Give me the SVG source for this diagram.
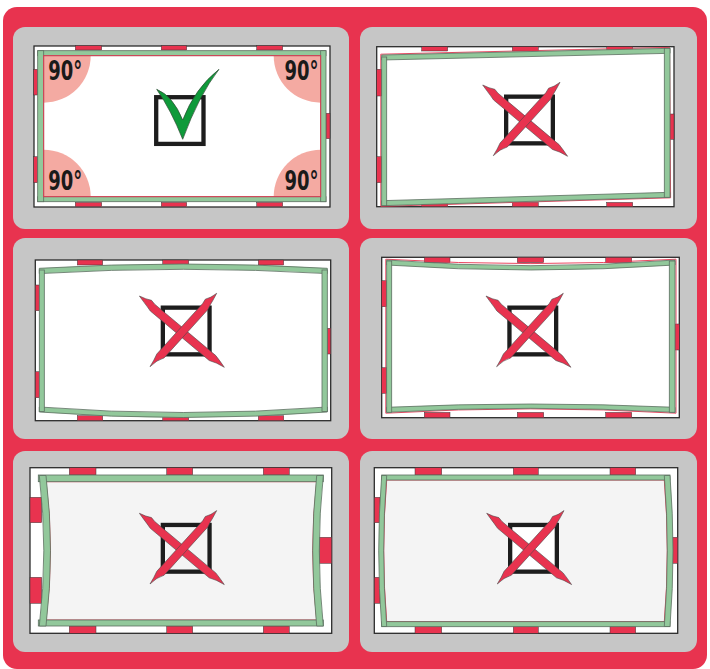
<svg xmlns="http://www.w3.org/2000/svg" xmlns:xlink="http://www.w3.org/1999/xlink" width="710" height="669" viewBox="0 0 710 669">
<style>
.bg{fill:#e8334f}
.panel{fill:#c6c6c6}
.win{fill:#fff;stroke:#2b2b2b;stroke-width:1.3}
.mk{fill:#e8334f;stroke:#3a3a3a;stroke-width:0.5}
.gr{fill:#92c89b;stroke:#5c6e60;stroke-width:0.8}
.glass{fill:none;stroke:#e8334f;stroke-width:0.9}
.pink{fill:#f4aaa2}
.lt{fill:#f4f4f4}
.box{fill:none;stroke:#1d1d1d;stroke-width:4.3}
.xarm{fill:#e8334f;stroke:#4a4a4a;stroke-width:0.6}
.deg{font-family:"Liberation Sans Narrow","DejaVu Sans Condensed","Liberation Sans",sans-serif;font-weight:bold;font-size:26px;fill:#1a1a1a}
</style>
<defs>
<g id="xmark">
<rect class="box" x="-18.85" y="-23.35" width="46.7" height="46.7"/>
<path class="xarm" d="M-42.3,-35 Q-36,-31.8 -30.2,-30.7 L-27,-26.8 L34.1,24.6 Q38,29.5 42.6,36.3 Q35,31.5 27.5,29.5 L-31.4,-20 Q-34.5,-24.5 -37.5,-28.4 Z"/>
<path class="xarm" d="M35,-37.7 Q29,-33 23.6,-31.8 L21,-27.5 L-24.9,23 Q-27.5,29 -31.7,35.7 Q-25,29 -17.6,26.9 L26.2,-21.4 Q28.5,-26.5 31.1,-30.5 Z"/>
</g>
</defs>
<rect class="bg" x="3" y="7" width="704" height="662" rx="14"/>

<g id="panel-correct">
<rect class="panel" x="13" y="27" width="336" height="202" rx="12"/>
<rect class="win" x="34" y="46" width="296" height="161"/>
<rect class="mk" x="75.3" y="45.7" width="26.4" height="4.3"/>
<rect class="mk" x="161.3" y="45.7" width="25.4" height="4.3"/>
<rect class="mk" x="256.7" y="45.7" width="26" height="4.3"/>
<rect class="mk" x="75.3" y="202.4" width="26.4" height="4.3"/>
<rect class="mk" x="161.3" y="202.4" width="25.4" height="4.3"/>
<rect class="mk" x="256.7" y="202.4" width="26" height="4.3"/>
<rect class="mk" x="33.7" y="69.3" width="4" height="25.7"/>
<rect class="mk" x="33.7" y="156.7" width="4" height="26"/>
<rect class="mk" x="326" y="113.3" width="4" height="25.4"/>
<path class="pink" d="M43.7,55.7 h47 A47,47 0 0 1 43.7,102.7 Z"/>
<path class="pink" d="M320.7,55.7 h-47 A47,47 0 0 0 320.7,102.7 Z"/>
<path class="pink" d="M43.7,196.7 h47 A47,47 0 0 0 43.7,149.7 Z"/>
<path class="pink" d="M320.7,196.7 h-47 A47,47 0 0 1 320.7,149.7 Z"/>
<rect class="gr" x="37.7" y="50.7" width="288.3" height="5"/>
<rect class="gr" x="37.7" y="196.7" width="288.3" height="5"/>
<rect class="gr" x="37.7" y="50.7" width="6" height="151"/>
<rect class="gr" x="320.7" y="50.7" width="5.3" height="151"/>
<rect class="glass" x="43.7" y="55.7" width="277" height="141"/>
<text class="deg" x="48.3" y="80" textLength="34" lengthAdjust="spacingAndGlyphs">90°</text>
<text class="deg" x="284.5" y="80" textLength="34" lengthAdjust="spacingAndGlyphs">90°</text>
<text class="deg" x="48.3" y="190" textLength="34" lengthAdjust="spacingAndGlyphs">90°</text>
<text class="deg" x="284.5" y="190" textLength="34" lengthAdjust="spacingAndGlyphs">90°</text>
<rect class="box" x="156.2" y="97.2" width="47.3" height="46.7"/>
<path d="M156.7,89.3 Q173,96 182.7,120 Q195,88 219,69.3 Q199,95 182.7,139.3 Q171,110 156.7,89.3 Z" fill="#0f9a3a" stroke="#2e4a33" stroke-width="0.7"/>
</g>

<g id="panel-skewed">
<rect class="panel" x="360" y="27" width="337" height="202" rx="12"/>
<rect class="win" x="376.7" y="46.7" width="297.3" height="160"/>
<rect class="mk" x="421.7" y="46.7" width="26" height="4.3"/>
<rect class="mk" x="512.3" y="46.7" width="26" height="4.3"/>
<rect class="mk" x="606.7" y="46.7" width="26" height="4.3"/>
<rect class="mk" x="421.7" y="202.4" width="26" height="4.3"/>
<rect class="mk" x="512.3" y="202.4" width="26" height="4.3"/>
<rect class="mk" x="606.7" y="202.4" width="26" height="4.3"/>
<rect class="mk" x="376.7" y="69.3" width="5" height="26.7"/>
<rect class="mk" x="376.7" y="156.7" width="5" height="26"/>
<rect class="mk" x="670" y="114" width="4" height="25.3"/>
<path class="glass" d="M380.8,54.2 L669.5,47.4 L670.6,197.8 L380.8,206.4 Z"/>
<path class="gr" d="M381.7,55 L670,48.3 L670,53.3 L381.7,60 Z"/>
<path class="gr" d="M381.7,200.7 L670,192.3 L670,197.3 L381.7,205.7 Z"/>
<rect class="gr" x="381.7" y="57" width="5" height="148.7"/>
<rect class="gr" x="664.3" y="48.3" width="5.7" height="149"/>
<use xlink:href="#xmark" href="#xmark" x="525" y="120"/>
</g>

<g id="panel-bowed-out">
<rect class="panel" x="13" y="238" width="336" height="201" rx="12"/>
<rect class="win" x="35.3" y="260" width="295.4" height="160.7"/>
<rect class="mk" x="77.3" y="260" width="25.4" height="5"/>
<rect class="mk" x="162.7" y="260" width="26" height="5"/>
<rect class="mk" x="258.3" y="260" width="25.4" height="5"/>
<rect class="mk" x="77.3" y="415.7" width="25.4" height="5"/>
<rect class="mk" x="162.7" y="415.7" width="26" height="5"/>
<rect class="mk" x="258.3" y="415.7" width="25.4" height="5"/>
<rect class="mk" x="35.3" y="285" width="4" height="25.7"/>
<rect class="mk" x="35.3" y="371.7" width="4" height="26"/>
<rect class="mk" x="327.3" y="328.3" width="3.4" height="25.7"/>
<path class="gr" d="M39.3,268.3 Q183.3,259.7 327.3,268.3 L327.3,273.6 Q183.3,265 39.3,273.6 Z"/>
<path class="gr" d="M39.3,407 Q183.3,418 327.3,407 L327.3,412 Q183.3,423 39.3,412 Z"/>
<rect class="gr" x="39.3" y="270" width="5" height="141.5"/>
<rect class="gr" x="322" y="270" width="5.3" height="141.5"/>
<use xlink:href="#xmark" href="#xmark" x="181.7" y="331"/>
</g>

<g id="panel-bowed-in">
<rect class="panel" x="360" y="238" width="337" height="201" rx="12"/>
<rect class="win" x="381.7" y="257.3" width="297.6" height="160.4"/>
<rect class="mk" x="424.3" y="257.3" width="25.7" height="5.3"/>
<rect class="mk" x="517.3" y="257.3" width="26.4" height="5.3"/>
<rect class="mk" x="605.7" y="257.3" width="26" height="5.3"/>
<rect class="mk" x="424.3" y="412.4" width="25.7" height="5.3"/>
<rect class="mk" x="517.3" y="412.4" width="26.4" height="5.3"/>
<rect class="mk" x="605.7" y="412.4" width="26" height="5.3"/>
<rect class="mk" x="381.7" y="280.7" width="5" height="26"/>
<rect class="mk" x="381.7" y="367.7" width="5" height="25.6"/>
<rect class="mk" x="675" y="324" width="4.3" height="26"/>
<path class="glass" d="M385.8,259.2 Q531,268 676,259.2 M385.8,413.2 Q531,404.5 676,413.2 M385.8,259.2 V413.2 M676,259.2 V413.2"/>
<path class="gr" d="M386.7,260 Q531,271.4 675,260 L675,265 Q531,275 386.7,265 Z"/>
<path class="gr" d="M386.7,407.3 Q531,400.7 675,407.3 L675,412.3 Q531,404.3 386.7,412.3 Z"/>
<rect class="gr" x="386.7" y="261" width="5" height="151.3"/>
<rect class="gr" x="669.3" y="261" width="5.7" height="151.3"/>
<use xlink:href="#xmark" href="#xmark" x="528.3" y="331"/>
</g>

<g id="panel-sides-in">
<rect class="panel" x="13" y="451" width="336" height="201" rx="12"/>
<rect class="win" x="30" y="467.7" width="301.7" height="165.6"/>
<rect class="mk" x="69.3" y="467.7" width="26.7" height="7.3"/>
<rect class="mk" x="166.7" y="467.7" width="26" height="7.3"/>
<rect class="mk" x="263.3" y="467.7" width="26" height="7.3"/>
<rect class="mk" x="69.3" y="626" width="26.7" height="7.3"/>
<rect class="mk" x="166.7" y="626" width="26" height="7.3"/>
<rect class="mk" x="263.3" y="626" width="26" height="7.3"/>
<rect class="mk" x="30" y="497.3" width="11.7" height="25.4"/>
<rect class="mk" x="30" y="577.3" width="11.7" height="26"/>
<rect class="mk" x="319.3" y="537.3" width="12.4" height="26"/>
<path class="lt" d="M46,481.7 L316.7,481.7 Q308.7,550.8 316.7,620 L46,620 Q55,550.8 46,481.7 Z"/>
<path class="glass" d="M46,481.7 L316.7,481.7 Q308.7,550.8 316.7,620 L46,620 Q55,550.8 46,481.7 Z"/>
<rect class="gr" x="38.3" y="475" width="285" height="6.7"/>
<rect class="gr" x="38.3" y="620" width="285" height="6"/>
<path class="gr" d="M39.3,475.5 Q48.3,550.8 39.3,626 L46,626 Q55,550.8 46,475.5 Z"/>
<path class="gr" d="M323.3,475.5 Q315.3,550.8 323.3,626 L316.7,626 Q308.7,550.8 316.7,475.5 Z"/>
<use xlink:href="#xmark" href="#xmark" x="181.7" y="548.3"/>
</g>

<g id="panel-sides-out">
<rect class="panel" x="360" y="451" width="337" height="201" rx="12"/>
<rect class="win" x="374.3" y="467.7" width="303.4" height="165.6"/>
<rect class="mk" x="415" y="467.7" width="26.7" height="7.3"/>
<rect class="mk" x="513.3" y="467.7" width="25" height="7.3"/>
<rect class="mk" x="610" y="467.7" width="25.7" height="7.3"/>
<rect class="mk" x="415" y="626" width="26.7" height="7.3"/>
<rect class="mk" x="513.3" y="626" width="25" height="7.3"/>
<rect class="mk" x="610" y="626" width="25.7" height="7.3"/>
<rect class="mk" x="374.3" y="497.3" width="5.7" height="25.4"/>
<rect class="mk" x="374.3" y="577.3" width="5.7" height="26"/>
<rect class="mk" x="672.7" y="537.3" width="5" height="26"/>
<path class="lt" d="M386.7,480 L664.3,480 Q670.3,550.8 664.3,621.7 L386.7,621.7 Q380.7,550.8 386.7,480 Z"/>
<path class="glass" d="M386.7,480 L664.3,480 Q670.3,550.8 664.3,621.7 L386.7,621.7 Q380.7,550.8 386.7,480 Z"/>
<rect class="gr" x="381.7" y="475" width="288.3" height="5"/>
<rect class="gr" x="381.7" y="621.7" width="288.3" height="5"/>
<path class="gr" d="M381.7,475.5 Q375.7,550.8 381.7,626.5 L386.7,626.5 Q380.7,550.8 386.7,475.5 Z"/>
<path class="gr" d="M670,475.5 Q676,550.8 670,626.5 L664.3,626.5 Q670.3,550.8 664.3,475.5 Z"/>
<rect x="510" y="525" width="46.7" height="46.7" fill="#fff"/>
<use xlink:href="#xmark" href="#xmark" x="529" y="548.3"/>
</g>
</svg>
